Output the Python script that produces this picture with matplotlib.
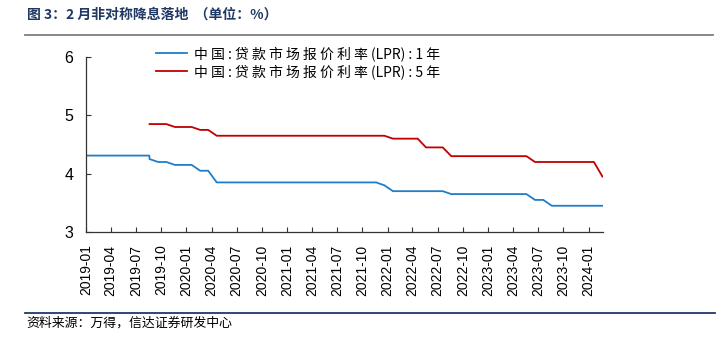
import numpy as np
import pandas as pd
import matplotlib
matplotlib.use("Agg")
import matplotlib.pyplot as plt
import matplotlib.dates as mdates
from matplotlib.lines import Line2D

# ---------------------------------------------------------------- data
# monthly LPR fixing dates (20th of each month), 2019-08 .. 2024-02
lpr_dates = pd.date_range("2019-08-01", "2024-02-01", freq="MS") + pd.Timedelta(days=19)

# old 1Y lending reference before the LPR reform
old_dates = pd.to_datetime(["2019-01-02", "2019-08-19"])
old_1y = [4.31, 4.31]

lpr_1y = [4.25, 4.20, 4.20, 4.15, 4.15,                                        # 2019
          4.15, 4.05, 4.05, 3.85, 3.85, 3.85, 3.85, 3.85, 3.85, 3.85, 3.85, 3.85,  # 2020
          3.85, 3.85, 3.85, 3.85, 3.85, 3.85, 3.85, 3.85, 3.85, 3.85, 3.85, 3.80,  # 2021
          3.70, 3.70, 3.70, 3.70, 3.70, 3.70, 3.70, 3.65, 3.65, 3.65, 3.65, 3.65,  # 2022
          3.65, 3.65, 3.65, 3.65, 3.65, 3.55, 3.55, 3.45, 3.45, 3.45, 3.45, 3.45,  # 2023
          3.45, 3.45]                                                          # 2024

lpr_5y = [4.85, 4.85, 4.85, 4.80, 4.80,
          4.80, 4.75, 4.75, 4.65, 4.65, 4.65, 4.65, 4.65, 4.65, 4.65, 4.65, 4.65,
          4.65, 4.65, 4.65, 4.65, 4.65, 4.65, 4.65, 4.65, 4.65, 4.65, 4.65, 4.65,
          4.60, 4.60, 4.60, 4.60, 4.45, 4.45, 4.45, 4.30, 4.30, 4.30, 4.30, 4.30,
          4.30, 4.30, 4.30, 4.30, 4.30, 4.20, 4.20, 4.20, 4.20, 4.20, 4.20, 4.20,
          4.20, 3.95]

# labels are letter-spaced in the original
label_1y = "中 国 : 贷 款 市 场 报 价 利 率 (LPR) : 1 年"
label_5y = "中 国 : 贷 款 市 场 报 价 利 率 (LPR) : 5 年"
title = "图 3：2 月非对称降息落地  （单位：%）"
source = "资料来源：万得，信达证券研发中心"

tick_dates = pd.date_range("2019-01-01", "2024-01-01", freq="3MS")

# ---------------------------------------------------------------- style
cjk = ["Noto Sans CJK SC", "DejaVu Sans"]
num = ["Liberation Sans", "DejaVu Sans"]
blue = "#1f7ecb"
red = "#c00000"
navy = "#1f3864"

fig = plt.figure(figsize=(7.2, 3.38), dpi=100)
ax = fig.add_axes([0.1194, 0.3136, 0.7181, 0.5178])

x1 = np.concatenate([old_dates.values, lpr_dates.values])
y1 = old_1y + lpr_1y
ax.plot(x1, y1, color=blue, lw=1.3)
ax.plot(lpr_dates, lpr_5y, color=red, lw=1.3)

ax.set_ylim(3, 6)
ax.set_yticks([3, 4, 5, 6])
ax.set_xlim(pd.Timestamp("2019-01-01"), pd.Timestamp("2024-02-22"))
ax.set_xticks(tick_dates)
ax.xaxis.set_major_formatter(mdates.DateFormatter("%Y-%m"))

for s in ["top", "right"]:
    ax.spines[s].set_visible(False)
for s in ["left", "bottom"]:
    ax.spines[s].set_color("#333333")
    ax.spines[s].set_linewidth(0.9)

ax.tick_params(axis="both", direction="in", length=3.5, width=0.8, color="#333333")
ax.tick_params(axis="y", pad=9, labelsize=11.5)
ax.tick_params(axis="x", pad=9, labelsize=10, labelrotation=90)
for lab in ax.get_xticklabels() + ax.get_yticklabels():
    lab.set_family(num)

handles = [Line2D([], [], color=blue, lw=1.3), Line2D([], [], color=red, lw=1.3)]
ax.legend(handles, [label_1y, label_5y], loc="upper left",
          bbox_to_anchor=(0.125, 1.095), frameon=False, handlelength=2.2,
          handletextpad=0.5, labelspacing=0.25, borderaxespad=0,
          prop={"family": cjk, "size": 10})

# title, rules and source note
fig.text(0.037, 0.958, title, family=cjk, fontsize=10, fontweight="bold",
         color=navy, va="center")
fig.add_artist(Line2D([0.035, 0.99], [0.896, 0.896], color="#7f7f7f", lw=1.3))
fig.add_artist(Line2D([0.035, 0.993], [0.074, 0.074], color=navy, lw=1.3))
fig.text(0.037, 0.045, source, family=cjk, fontsize=9.3, color="black",
         va="center", style="italic")

fig.savefig("out.png", dpi=100)
